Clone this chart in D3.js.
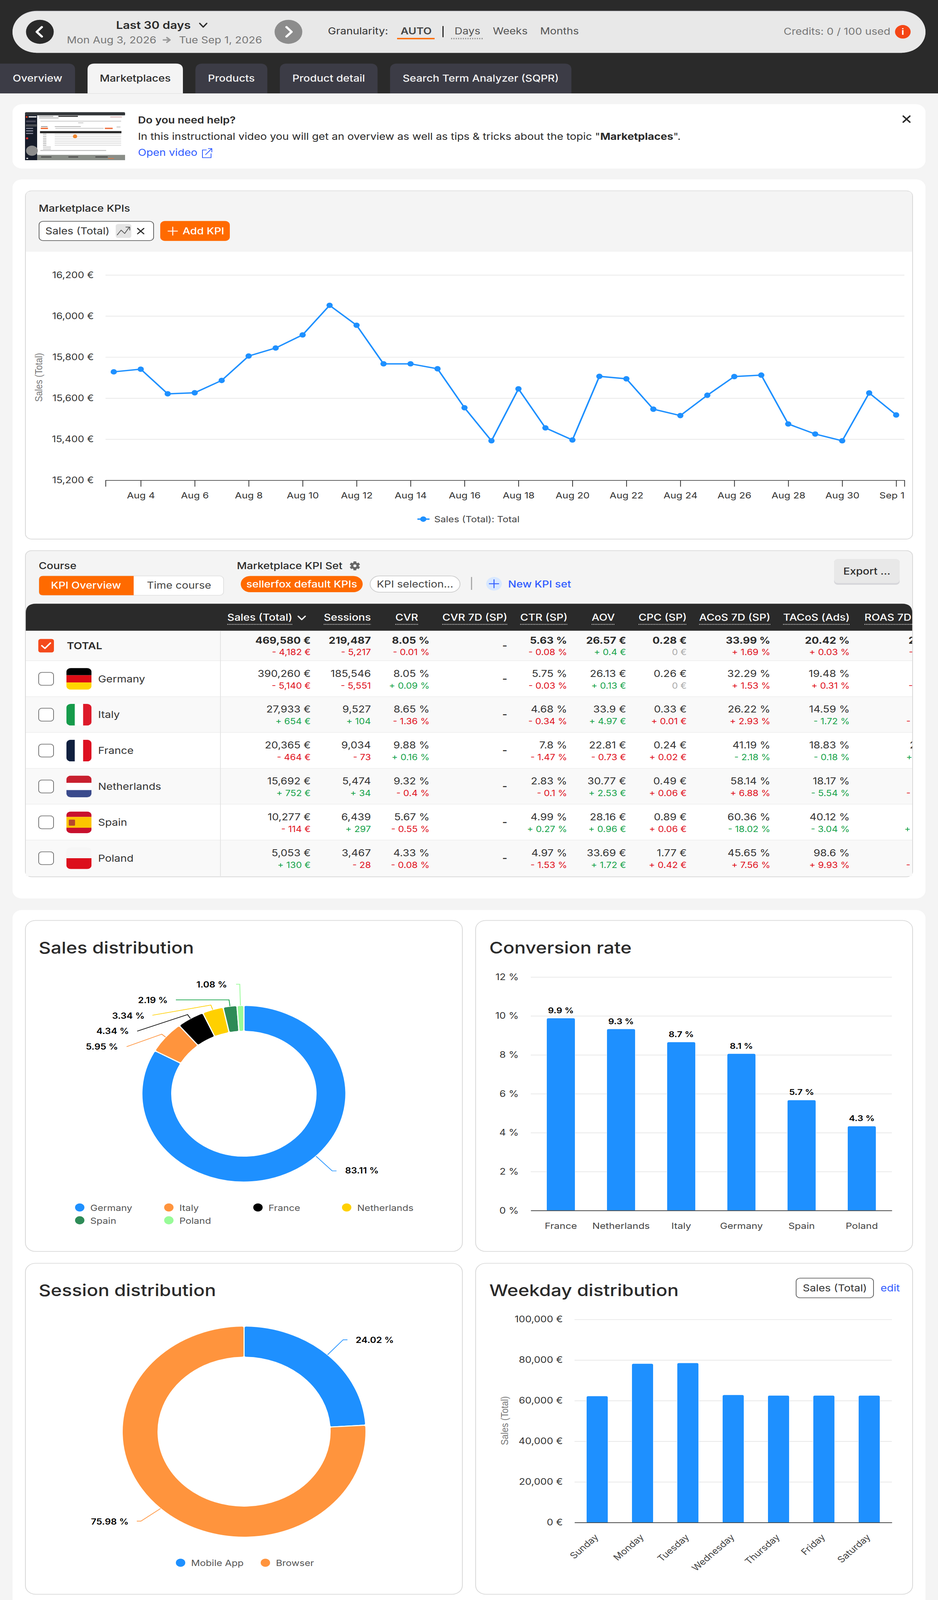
<!DOCTYPE html>
<html lang="en">
<head>
<meta charset="utf-8">
<style>
  html, body { margin: 0; padding: 0; background: #f4f4f4; }
  svg { display: block; font-family: Inter, "Noto Sans", sans-serif; }
</style>
</head>
<body>
<script src="https://cdn.jsdelivr.net/npm/d3@7"></script>
<script>
// --- data ---
const salesDays = ["Aug 3","Aug 4","Aug 5","Aug 6","Aug 7","Aug 8","Aug 9","Aug 10","Aug 11","Aug 12","Aug 13","Aug 14","Aug 15","Aug 16","Aug 17","Aug 18","Aug 19","Aug 20","Aug 21","Aug 22","Aug 23","Aug 24","Aug 25","Aug 26","Aug 27","Aug 28","Aug 29","Aug 30","Aug 31","Sep 1"];
const salesDaily = [15728,15741,15621,15626,15686,15805,15844,15908,16052,15955,15767,15767,15743,15553,15392,15645,15455,15396,15706,15694,15546,15515,15614,15705,15712,15474,15425,15392,15625,15518];
const salesTicks = [15200,15400,15600,15800,16000,16200];

const rowNames = ["TOTAL","Germany","Italy","France","Netherlands","Spain","Poland"];
const tableHeads = ["Sales (Total)","Sessions","CVR","CVR 7D (SP)","CTR (SP)","AOV","CPC (SP)","ACoS 7D (SP)","TACoS (Ads)","ROAS 7D (SP)"];
const salesVals = ["469,580 €","390,260 €","27,933 €","20,365 €","15,692 €","10,277 €","5,053 €"];
const salesDeltas = ["- 4,182 €","- 5,140 €","+ 654 €","- 464 €","+ 752 €","- 114 €","+ 130 €"];
const sessionVals = ["219,487","185,546","9,527","9,034","5,474","6,439","3,467"];
const sessionDeltas = ["- 5,217","- 5,551","+ 104","- 73","+ 34","+ 297","- 28"];
const cvrVals = ["8.05 %","8.05 %","8.65 %","9.88 %","9.32 %","5.67 %","4.33 %"];
const cvrDeltas = ["- 0.01 %","+ 0.09 %","- 1.36 %","+ 0.16 %","- 0.4 %","- 0.55 %","- 0.08 %"];
const ctrVals = ["5.63 %","5.75 %","4.68 %","7.8 %","2.83 %","4.99 %","4.97 %"];
const ctrDeltas = ["- 0.08 %","- 0.03 %","- 0.34 %","- 1.47 %","- 0.1 %","+ 0.27 %","- 1.53 %"];
const aovVals = ["26.57 €","26.13 €","33.9 €","22.81 €","30.77 €","28.16 €","33.69 €"];
const aovDeltas = ["+ 0.4 €","+ 0.13 €","+ 4.97 €","- 0.73 €","+ 2.53 €","+ 0.96 €","+ 1.72 €"];
const cpcVals = ["0.28 €","0.26 €","0.33 €","0.24 €","0.49 €","0.89 €","1.77 €"];
const cpcDeltas = ["0 €","0 €","+ 0.01 €","+ 0.02 €","+ 0.06 €","+ 0.06 €","+ 0.42 €"];
const acosVals = ["33.99 %","32.29 %","26.22 %","41.19 %","58.14 %","60.36 %","45.65 %"];
const acosDeltas = ["+ 1.69 %","+ 1.53 %","+ 2.93 %","- 2.18 %","+ 6.88 %","- 18.02 %","+ 7.56 %"];
const tacosVals = ["20.42 %","19.48 %","14.59 %","18.83 %","18.17 %","40.12 %","98.6 %"];
const tacosDeltas = ["+ 0.03 %","+ 0.31 %","- 1.72 %","- 0.18 %","- 5.54 %","- 3.04 %","+ 9.93 %"];
// the last column is cut off by the table edge, only the first glyphs can be seen
const roasVals = ["2.94","3.1","3.81","2.43","1.72","1.66","2.19"];
const roasDeltas = ["- 0.15","- 0.14","- 0.39","+ 0.21","- 0.58","+ 0.36","- 0.29"];

const salesShareNames = ["Germany","Italy","France","Netherlands","Spain","Poland"];
const salesShares = [83.11,5.95,4.34,3.34,2.19,1.08];

const cvrCountries = ["France","Netherlands","Italy","Germany","Spain","Poland"];
const cvrRates = [9.88,9.32,8.65,8.05,5.67,4.33];
const cvrLabels = ["9.9 %","9.3 %","8.7 %","8.1 %","5.7 %","4.3 %"];
const cvrTicks = [0,2,4,6,8,10,12];

const sessionShareNames = ["Mobile App","Browser"];
const sessionShares = [24.02,75.98];

const weekdays = ["Sunday","Monday","Tuesday","Wednesday","Thursday","Friday","Saturday"];
const weekdaySales = [62200,78200,78500,62800,62500,62500,62500];
const weekdayTicks = [0,20000,40000,60000,80000,100000];

// --- colours ---
const blue = "#1e90ff", orange = "#ff6a00", dark = "#2a2a2a", link = "#2f5bff";
const shareColors = ["#1e90ff","#ff943d","#000000","#ffd000","#2e8b57","#98fb98"];
const gridCol = "#e6e6e6", txt = "#333333";

const svg = d3.select("body").append("svg").attr("width", 2400).attr("height", 4728);
const fmt = d3.format(",");

function rect(p, x, y, w, h, fill, r, stroke, sw) {
  const n = p.append("rect").attr("x", x).attr("y", y).attr("width", w).attr("height", h).attr("fill", fill);
  if (r) n.attr("rx", r);
  if (stroke) n.attr("stroke", stroke).attr("stroke-width", sw || 2);
  return n;
}
function text(p, x, y, s, size, fill, weight, anchor) {
  return p.append("text").attr("x", x).attr("y", y).text(s)
    .attr("font-size", size).attr("fill", fill || txt)
    .attr("font-weight", weight || 400).attr("text-anchor", anchor || "start");
}
function stroke(p, d, col, w) {
  return p.append("path").attr("d", d).attr("fill", "none").attr("stroke", col)
    .attr("stroke-width", w).attr("stroke-linecap", "round").attr("stroke-linejoin", "round");
}

// --- page frame ---
rect(svg, 0, 0, 2400, 4728, "#f4f4f4");
rect(svg, 0, 0, 2400, 276, dark);

// top bar
rect(svg, 32, 32, 2336, 124, "#d2d2d8", 62);
rect(svg, 32, 34, 2336, 122, "#e8e8e8", 61);
svg.append("circle").attr("cx", 102).attr("cy", 94).attr("r", 35.5).attr("fill", dark);
stroke(svg, "M107,80 L94,94 L107,108", "#fff", 6);
svg.append("circle").attr("cx", 738).attr("cy", 94).attr("r", 35.5).attr("fill", "#8c8c8c");
stroke(svg, "M733,80 L746,94 L733,108", "#fff", 6);
text(svg, 297, 85, "Last 30 days", 31, dark, 600);
stroke(svg, "M511,69 L520,80 L529,69", dark, 3.5);
text(svg, 171, 128, "Mon Aug 3, 2026", 28, "#777");
stroke(svg, "M418,118 H434 M427,111 L435,118 L427,125", "#999", 4);
text(svg, 458, 128, "Tue Sep 1, 2026", 28, "#777");
text(svg, 839, 102, "Granularity:", 28, txt);
text(svg, 1025, 102, "AUTO", 28, "#444", 600);
rect(svg, 1016, 112, 96, 4, orange);
rect(svg, 1132, 77, 3, 33, dark);
text(svg, 1163, 102, "Days", 28, "#555");
svg.append("line").attr("x1", 1154).attr("x2", 1236).attr("y1", 114).attr("y2", 114)
  .attr("stroke", "#999").attr("stroke-width", 4).attr("stroke-dasharray", "3,3");
text(svg, 1261, 102, "Weeks", 28, "#555");
text(svg, 1382, 102, "Months", 28, "#555");
text(svg, 2005, 103, "Credits: 0 / 100 used", 28, "#777");
svg.append("circle").attr("cx", 2310).attr("cy", 94).attr("r", 20).attr("fill", "#f44616");
text(svg, 2310, 103, "i", 24, "#fff", 700, "middle");

// tabs
const tabNames = ["Overview","Marketplaces","Products","Product detail","Search Term Analyzer (SQPR)"];
const tabEdges = [[-20,192],[224,468],[500,684],[716,966],[998,1462]];
tabNames.forEach((t, i) => {
  const [a, b] = tabEdges[i], active = i === 1;
  svg.append("path")
    .attr("d", `M${a},276 V206 Q${a},188 ${a+18},188 H${b-18} Q${b},188 ${b},206 V276 Z`)
    .attr("fill", active ? "#f4f4f4" : "#3c3c46");
  text(svg, (Math.max(a, 0) + b) / 2, 241, t, 28, active ? dark : "#f4f4f4", 500, "middle");
});

// help panel
rect(svg, 32, 308, 2336, 190, "#fff", 24);
const thumb = svg.append("g");
drawThumb(thumb);
text(svg, 353, 365, "Do you need help?", 28, dark, 600);
const helpLine = text(svg, 353, 413, "In this instructional video you will get an overview as well as tips & tricks about the topic \"", 28, dark);
helpLine.append("tspan").attr("font-weight", 700).text("Marketplaces");
helpLine.append("tspan").text("\".");
text(svg, 353, 460, "Open video", 28, link);
stroke(svg, "M528,443 H518 V466 H540 V454 M526,457 L541,440 M533,439 H542 V449", link, 2);
stroke(svg, "M2311,343 L2328,361 M2328,343 L2311,361", dark, 4);

function drawThumb(g) {
  // tiny screenshot of the tool, read in the coordinates of a 3x crop of the thumbnail
  const X = v => 60 + v / 3, Y = v => 328 + v / 3;
  const box = (a, b, w, h, c, r) => rect(g, X(a), Y(b), w / 3, h / 3, c, r);
  g.attr("filter", "url(#soft)");
  const defs = svg.append("defs");
  defs.append("filter").attr("id", "soft").append("feGaussianBlur").attr("stdDeviation", 0.45);
  box(12, 12, 768, 424, "#1b2430", 3);
  box(105, 38, 675, 352, "#ffffff");
  box(105, 390, 675, 46, "#8a8e88");
  box(12, 12, 768, 26, "#333638", 3);
  box(12, 40, 92, 396, "#141e2c");
  box(40, 46, 60, 12, "#dddddd"); box(18, 46, 14, 14, "#e8431a");
  box(20, 84, 74, 16, "#445"); box(18, 118, 84, 20, "#4a4d52");
  [150, 172, 195].forEach(y => box(20, y, 54, 8, "#99a"));
  g.append("circle").attr("cx", X(28)).attr("cy", Y(242)).attr("r", 3).attr("fill", "#e03030");
  box(120, 44, 110, 8, "#aaa"); box(120, 58, 150, 8, "#bbb");
  box(268, 42, 150, 10, "#333"); box(666, 50, 90, 6, "#c99");
  box(130, 86, 620, 8, "#cfcfcf"); box(420, 102, 40, 6, "#bbb");
  box(135, 135, 50, 6, "#888"); box(240, 135, 200, 6, "#aaa");
  box(133, 148, 55, 12, "#f06a30"); box(245, 150, 370, 7, "#c8c8c8");
  box(625, 148, 60, 12, "#ee7040"); box(715, 134, 30, 16, "#ddd");
  box(127, 178, 625, 19, "#262626");
  box(130, 199, 620, 12, "#f2f2f2");
  [205, 224, 241, 257, 273, 288, 304].forEach(y => {
    box(150, y - 4, 26, 8, "#b9b9b9");
    box(240, y - 3, 510, 6, "#d8d8d8");
  });
  [320, 337].forEach(y => box(150, y - 4, 60, 8, "#c8c8c8"));
  box(130, 346, 505, 8, "#bcbcbc");
  g.append("circle").attr("cx", X(396)).attr("cy", Y(225)).attr("r", 5.5).attr("fill", "#f0842c");
  g.append("circle").attr("cx", X(65)).attr("cy", Y(352)).attr("r", 15).attr("fill", "#8d8d8d");
  box(135, 403, 80, 9, "#444"); box(345, 403, 75, 9, "#444"); box(552, 403, 95, 9, "#444");
  box(650, 418, 45, 5, "#ee7030"); box(22, 415, 14, 10, "#ddd");
}

// two white panels
rect(svg, 32, 530, 2336, 2125, "#fff", 24);
rect(svg, 32, 2689, 2336, 2065, "#fff", 24);

// --- Marketplace KPIs card ---
rect(svg, 65, 564, 2270, 1029, "#fff", 16, "#d8d8d8", 2);
svg.append("path").attr("d", "M66,744 V580 Q66,565 81,565 H2319 Q2334,565 2334,580 V744 Z").attr("fill", "#f4f4f4");
text(svg, 99, 626, "Marketplace KPIs", 28, dark, 500);
rect(svg, 100, 654, 293, 57, "#fff", 10, "#666", 2);
text(svg, 116, 693, "Sales (Total)", 28, txt);
rect(svg, 296, 662, 40, 41, "#e4e4e4", 6);
stroke(svg, "M300,694 L310,680 L319,690 L331,671 M322,671 H332 V680", "#555", 2);
stroke(svg, "M352,675 L368,691 M368,675 L352,691", dark, 3);
rect(svg, 410, 653, 178, 59, orange, 12);
stroke(svg, "M430,683 H454 M442,671 V695", "#fff", 2.5);
text(svg, 467, 693, "Add KPI", 28, "#fff", 500);

const lineX = d3.scalePoint().domain(salesDays).range([270, 2314]).padding(0.305);
const lineY = d3.scaleLinear().domain([15200, 16200]).range([1419, 812.5]);

const lineGrid = svg.append("g").attr("transform", "translate(270,0)")
  .call(d3.axisLeft(lineY).tickValues(salesTicks).tickSize(-2044).tickPadding(30).tickFormat(d => fmt(d) + " €"));
styleAxisY(lineGrid);

const lineAxis = svg.append("g").attr("transform", "translate(0,1419)")
  .call(d3.axisBottom(lineX).tickValues(salesDays.filter((d, i) => i % 2 === 1)).tickSize(19).tickPadding(17));
styleAxisX(lineAxis);
lineAxis.selectAll(".tick text").filter(d => d === "Sep 1").attr("text-anchor", "end").attr("x", 21);

text(svg, 0, 0, "Sales (Total)", 26, "#777").attr("text-anchor", "middle")
  .attr("font-family", "Liberation Sans").attr("transform", "translate(108,1115) rotate(-90)");

svg.append("path").datum(salesDaily)
  .attr("d", d3.line().x((d, i) => lineX(salesDays[i])).y(d => lineY(d)))
  .attr("fill", "none").attr("stroke", blue).attr("stroke-width", 4);
svg.append("g").selectAll("circle").data(salesDaily).join("circle")
  .attr("cx", (d, i) => lineX(salesDays[i])).attr("cy", d => lineY(d)).attr("r", 8).attr("fill", blue);

svg.append("line").attr("x1", 1068).attr("x2", 1099).attr("y1", 1534).attr("y2", 1534)
  .attr("stroke", blue).attr("stroke-width", 4);
svg.append("circle").attr("cx", 1083).attr("cy", 1534).attr("r", 8).attr("fill", blue);
text(svg, 1111, 1543, "Sales (Total): Total", 25, "#444");

function styleAxisY(g) {
  g.select(".domain").remove();
  g.selectAll(".tick line").attr("stroke", gridCol).attr("stroke-width", 2);
  g.selectAll(".tick text").attr("font-size", 26).attr("fill", txt).attr("font-family", "Inter");
}
function styleAxisX(g) {
  g.select(".domain").attr("stroke", "#333").attr("stroke-width", 2);
  g.selectAll(".tick line").attr("stroke", "#333").attr("stroke-width", 2);
  g.selectAll(".tick text").attr("font-size", 25.5).attr("fill", txt).attr("font-family", "Inter");
}

// --- KPI table card ---
rect(svg, 65, 1627, 2270, 964, "#f4f4f4", 16, "#d8d8d8", 2);
text(svg, 99, 1682, "Course", 28, dark, 500);
rect(svg, 100, 1702, 472, 57, "#fff", 10, "#e2e2e2", 2);
svg.append("path").attr("d", "M342,1702 H110 Q100,1702 100,1712 V1749 Q100,1759 110,1759 H342 Z").attr("fill", orange);
text(svg, 220, 1740, "KPI Overview", 28, "#fff", 500, "middle");
text(svg, 458, 1740, "Time course", 28, "#444", 400, "middle");
text(svg, 606, 1682, "Marketplace KPI Set", 28, dark, 500);
drawGear(svg, 908, 1672);
rect(svg, 616, 1702, 312, 48, orange, 24);
text(svg, 772, 1736, "sellerfox default KPIs", 28, "#fff", 500, "middle");
rect(svg, 947, 1702, 230, 48, "#fff", 24, "#cccccc", 2);
text(svg, 964, 1736, "KPI selection...", 28, "#444");
rect(svg, 1205, 1705, 3, 38, "#aaaaaa");
svg.append("circle").attr("cx", 1264).attr("cy", 1725).attr("r", 20).attr("fill", "#d8e8ff");
stroke(svg, "M1252,1725 H1276 M1264,1713 V1737", link, 2.5);
text(svg, 1300, 1736, "New KPI set", 28, link, 500);
rect(svg, 2134, 1652, 168, 76, "#d6d6da", 10);
rect(svg, 2134, 1652, 168, 71, "#e8e8e8", 10);
text(svg, 2218, 1698, "Export ...", 28, dark, 500, "middle");

function drawGear(p, cx, cy) {
  const g = p.append("g").attr("transform", `translate(${cx},${cy})`);
  d3.range(6).forEach(i => rect(g, -3.5, -13, 7, 26, "#666", 1).attr("transform", `rotate(${i * 60})`));
  g.append("circle").attr("r", 10).attr("fill", "#666");
  g.append("circle").attr("r", 4).attr("fill", "#f4f4f4");
}

const tableColumns = [
  { head: tableHeads[0], vals: salesVals, deltas: salesDeltas, right: 795, headRight: 748 },
  { head: tableHeads[1], vals: sessionVals, deltas: sessionDeltas, right: 949, headRight: 949 },
  { head: tableHeads[2], vals: cvrVals, deltas: cvrDeltas, right: 1099, headRight: 1070 },
  { head: tableHeads[3], vals: null, deltas: null, right: 1298, headRight: 1298 },
  { head: tableHeads[4], vals: ctrVals, deltas: ctrDeltas, right: 1451, headRight: 1452 },
  { head: tableHeads[5], vals: aovVals, deltas: aovDeltas, right: 1602, headRight: 1573 },
  { head: tableHeads[6], vals: cpcVals, deltas: cpcDeltas, right: 1757, headRight: 1757, cost: true },
  { head: tableHeads[7], vals: acosVals, deltas: acosDeltas, right: 1971, headRight: 1971, cost: true },
  { head: tableHeads[8], vals: tacosVals, deltas: tacosDeltas, right: 2174, headRight: 2174, cost: true },
  { head: tableHeads[9], vals: roasVals, deltas: roasDeltas, right: 2387, headRight: 2396 }
];
const rowTops = [1864, 1953, 2059, 2165, 2271, 2377, 2483];
const rowBottom = 2589;

svg.append("defs").append("clipPath").attr("id", "tableClip")
  .append("rect").attr("x", 66).attr("y", 1700).attr("width", 2268).attr("height", 890);
const tbl = svg.append("g").attr("clip-path", "url(#tableClip)");

tbl.append("path").attr("d", "M66,1864 V1810 Q66,1784 92,1784 H2308 Q2334,1784 2334,1810 V1864 Z").attr("fill", dark);

rowNames.forEach((name, i) => {
  const top = rowTops[i], bot = i < 6 ? rowTops[i + 1] : rowBottom;
  rect(tbl, 66, top, 2268, bot - top, i % 2 === 0 ? "#f9f9f9" : "#ffffff");
  if (i < 6) rect(tbl, 66, bot - 1, 2268, 2, "#e3e3e3");
});
rect(tbl, 563, 1864, 2, 725, "#e3e3e3");

tableColumns.forEach(c => {
  const h = text(tbl, c.headRight, 1834, c.head, 28, "#fff", 500, "end");
  const w = h.node().getComputedTextLength();
  tbl.append("line").attr("x1", c.headRight - w).attr("x2", c.headRight).attr("y1", 1845).attr("y2", 1845)
    .attr("stroke", "#fff").attr("stroke-width", 2).attr("stroke-dasharray", "2,2");
  rowNames.forEach((r, i) => {
    const top = rowTops[i], bold = i === 0;
    const mainY = top + (bold ? 38.5 : 47), subY = top + (bold ? 72 : 81.5);
    if (!c.vals) {
      const bot = i < 6 ? rowTops[i + 1] : rowBottom;
      text(tbl, c.right, (top + bot) / 2 + 9, "-", 28, dark, 600, "end");
      return;
    }
    text(tbl, c.right, mainY, c.vals[i], 27.5, bold ? dark : txt, bold ? 700 : 400, "end");
    text(tbl, c.right, subY, c.deltas[i], 24, deltaColor(c.deltas[i], c.cost), 400, "end");
  });
});
stroke(tbl, "M763,1821 L772,1831 L781,1821", "#fff", 3.5);

function deltaColor(d, cost) {
  if (d[0] !== "+" && d[0] !== "-") return "#aaaaaa";
  const up = d[0] === "+";
  return up !== !!cost ? "#16a34a" : "#e0101c";
}

rowNames.forEach((name, i) => {
  const top = rowTops[i];
  if (i === 0) {
    rect(svg, 98, top + 24, 40, 40, "#f44a1c", 6);
    stroke(svg, `M107,${top + 44} L115,${top + 52} L129,${top + 36}`, "#fff", 4);
    text(svg, 171, top + 55, name, 28, dark, 600);
  } else {
    rect(svg, 99, top + 34, 38, 38, "#fff", 8, "#777", 2);
    drawFlag(name, 170, top + 21);
    text(svg, 251, top + 63, name, 28, txt);
  }
});

function drawFlag(name, x, y) {
  const id = "flag" + name;
  svg.append("defs").append("clipPath").attr("id", id)
    .append("rect").attr("x", x).attr("y", y).attr("width", 64).attr("height", 64).attr("rx", 11);
  const g = svg.append("g").attr("clip-path", `url(#${id})`);
  const hBands = (cols, fr) => { let yy = y; cols.forEach((c, i) => { rect(g, x, yy, 64, 64 * fr[i], c); yy += 64 * fr[i]; }); };
  const vBands = cols => cols.forEach((c, i) => rect(g, x + i * 64 / 3, y, 64 / 3 + 0.5, 64, c));
  if (name === "Germany") hBands(["#000000", "#dd0c15", "#ffd500"], [1/3, 1/3, 1/3]);
  if (name === "Italy") vBands(["#169b4b", "#ffffff", "#dd1a2a"]);
  if (name === "France") vBands(["#10203f", "#ffffff", "#dd1021"]);
  if (name === "Netherlands") hBands(["#c8202f", "#ffffff", "#3a4a8c"], [1/3, 1/3, 1/3]);
  if (name === "Spain") {
    hBands(["#c8102e", "#fcc400", "#c8102e"], [1/4, 1/2, 1/4]);
    rect(g, x + 6, y + 24, 16, 18, "#b5462e", 2);
  }
  if (name === "Poland") hBands(["#f6f6f6", "#dc0f1c"], [1/2, 1/2]);
}

// --- bottom cards ---
[[65, 2720, 1118, 978], [1217, 2720, 1118, 978], [65, 3733, 1118, 978], [1217, 3733, 1118, 978]]
  .forEach(c => rect(svg, c[0], c[1], c[2], c[3], "#fff", 26, "#d8d8d8", 2));
text(svg, 99, 2818, "Sales distribution", 48, dark, 500);
text(svg, 1252, 2818, "Conversion rate", 48, dark, 500);
text(svg, 99, 3830, "Session distribution", 48, dark, 500);
text(svg, 1252, 3830, "Weekday distribution", 48, dark, 500);

function drawDonut(cx, cy, R, r, names, values, leaders) {
  const g = svg.append("g").attr("transform", `translate(${cx},${cy})`);
  const arcs = d3.pie().sort(null).value(d => d)(values);
  const arc = d3.arc().innerRadius(r).outerRadius(R).cornerRadius(5);
  g.selectAll("path").data(arcs).join("path")
    .attr("d", arc).attr("fill", (d, i) => shareColors[i])
    .attr("stroke", "#fff").attr("stroke-width", 3);
  arcs.forEach((a, i) => {
    const l = leaders[i];
    const ang = l.startAngle != null ? l.startAngle * Math.PI / 180 : (a.startAngle + a.endAngle) / 2;
    const sx = cx + R * Math.sin(ang), sy = cy - R * Math.cos(ang);
    svg.append("path").attr("d", `M${sx},${sy} L${l.elbow[0]},${l.elbow[1]} L${l.end[0]},${l.end[1]}`)
      .attr("fill", "none").attr("stroke", shareColors[i] === "#2e8b57" ? "#16a34a" : shareColors[i]).attr("stroke-width", 2);
    text(svg, l.label[0], l.label[1], d3.format(".2f")(values[i]) + " %", 24, "#000", 600, l.anchor);
  });
}

// callouts are placed by hand, the way the original label layout left them
drawDonut(624, 3232, 261, 184.5, salesShareNames, salesShares, [
  { startAngle: 135, elbow: [850, 3460], end: [861, 3460], label: [883, 3468], anchor: "start" },
  { elbow: [414, 3056], end: [324, 3093], label: [302, 3102], anchor: "end" },
  { elbow: [480, 2998], end: [351, 3047], label: [330, 3056], anchor: "end" },
  { elbow: [539.5, 2970], end: [390, 3000], label: [370, 3010], anchor: "end" },
  { elbow: [586, 2954.5], end: [450, 2954.5], label: [429, 2964], anchor: "end" },
  { elbow: [613.5, 2908.5], end: [604, 2908.5], label: [581, 2918], anchor: "end" }
]);
drawDonut(624.5, 4230.5, 312, 220, sessionShareNames, sessionShares, [
  { elbow: [878, 3959], end: [889, 3959], label: [910, 3969], anchor: "start" },
  { elbow: [360.5, 4495], end: [350, 4495], label: [329, 4505], anchor: "end" }
]);

function legendItem(name, i, dotX, y) {
  svg.append("circle").attr("cx", dotX).attr("cy", y).attr("r", 12).attr("fill", shareColors[i]);
  text(svg, dotX + 27, y + 10, name, 25, "#555");
}
salesShareNames.forEach((n, i) => legendItem(n, i, [204, 432, 660, 887][i % 4], i < 4 ? 3568 : 3606));
sessionShareNames.forEach((n, i) => legendItem(n, i, [462, 679][i], 4618));

function topRounded(x, y, w, base, r) {
  return `M${x},${base} V${y + r} Q${x},${y} ${x + r},${y} H${x + w - r} Q${x + w},${y} ${x + w},${y + r} V${base} Z`;
}

// conversion rate bars
const cvrX = d3.scaleBand().domain(cvrCountries).range([1358, 2282]).paddingInner(0.533).paddingOuter(0.2665);
const cvrY = d3.scaleLinear().domain([0, 12]).range([3577, 2887]);
const cvrGrid = svg.append("g").attr("transform", "translate(1358,0)")
  .call(d3.axisLeft(cvrY).tickValues(cvrTicks).tickSize(-924).tickPadding(31).tickFormat(d => d + " %"));
styleAxisY(cvrGrid);
svg.append("g").selectAll("path").data(cvrRates).join("path")
  .attr("d", (d, i) => topRounded(cvrX(cvrCountries[i]), cvrY(d), cvrX.bandwidth(), cvrY(0), 4))
  .attr("fill", blue).attr("stroke", "#fff").attr("stroke-width", 2).attr("paint-order", "stroke");
const cvrAxis = svg.append("g").attr("transform", "translate(0,3577)")
  .call(d3.axisBottom(cvrX).tickSize(0).tickPadding(36));
styleAxisX(cvrAxis);
cvrAxis.selectAll(".tick text").attr("fill", "#444");
svg.append("g").selectAll("text").data(cvrLabels).join("text")
  .attr("x", (d, i) => cvrX(cvrCountries[i]) + cvrX.bandwidth() / 2)
  .attr("y", (d, i) => cvrY(cvrRates[i]) - 15)
  .attr("text-anchor", "middle").attr("font-size", 23.5).attr("font-weight", 600).attr("fill", "#000").text(d => d);

// weekday bars
rect(svg, 2037, 3777, 198, 58, "#fff", 10, "#666", 2);
text(svg, 2054, 3816, "Sales (Total)", 28, txt);
text(svg, 2253, 3816, "edit", 28, link);
const dayX = d3.scaleBand().domain(weekdays).range([1470, 2282]).paddingInner(0.534).paddingOuter(0.267);
const dayY = d3.scaleLinear().domain([0, 100000]).range([4499, 3899]);
const dayGrid = svg.append("g").attr("transform", "translate(1470,0)")
  .call(d3.axisLeft(dayY).tickValues(weekdayTicks).tickSize(-812).tickPadding(30).tickFormat(d => fmt(d) + " €"));
styleAxisY(dayGrid);
svg.append("g").selectAll("path").data(weekdaySales).join("path")
  .attr("d", (d, i) => topRounded(dayX(weekdays[i]), dayY(d), dayX.bandwidth(), dayY(0), 4))
  .attr("fill", blue).attr("stroke", "#fff").attr("stroke-width", 2).attr("paint-order", "stroke");
const dayAxis = svg.append("g").attr("transform", "translate(0,4499)")
  .call(d3.axisBottom(dayX).tickSize(0).tickPadding(0));
styleAxisX(dayAxis);
dayAxis.selectAll(".tick text").attr("fill", "#444").attr("text-anchor", "end").attr("dy", 0).attr("y", 0)
  .attr("transform", "translate(5,45) rotate(-45)");
text(svg, 0, 0, "Sales (Total)", 26, "#777").attr("text-anchor", "middle")
  .attr("font-family", "Liberation Sans").attr("transform", "translate(1300,4198) rotate(-90)");

// the browser can hand out a window shorter than the 4728 px asked for (it stops at 4096 here),
// so squeeze the page vertically to that height instead of losing the bottom of the two last cards
const fitHeight = Math.min(4728, window.innerHeight);
svg.attr("viewBox", "0 0 2400 4728").attr("preserveAspectRatio", "none").attr("height", fitHeight);
</script>
</body>
</html>
